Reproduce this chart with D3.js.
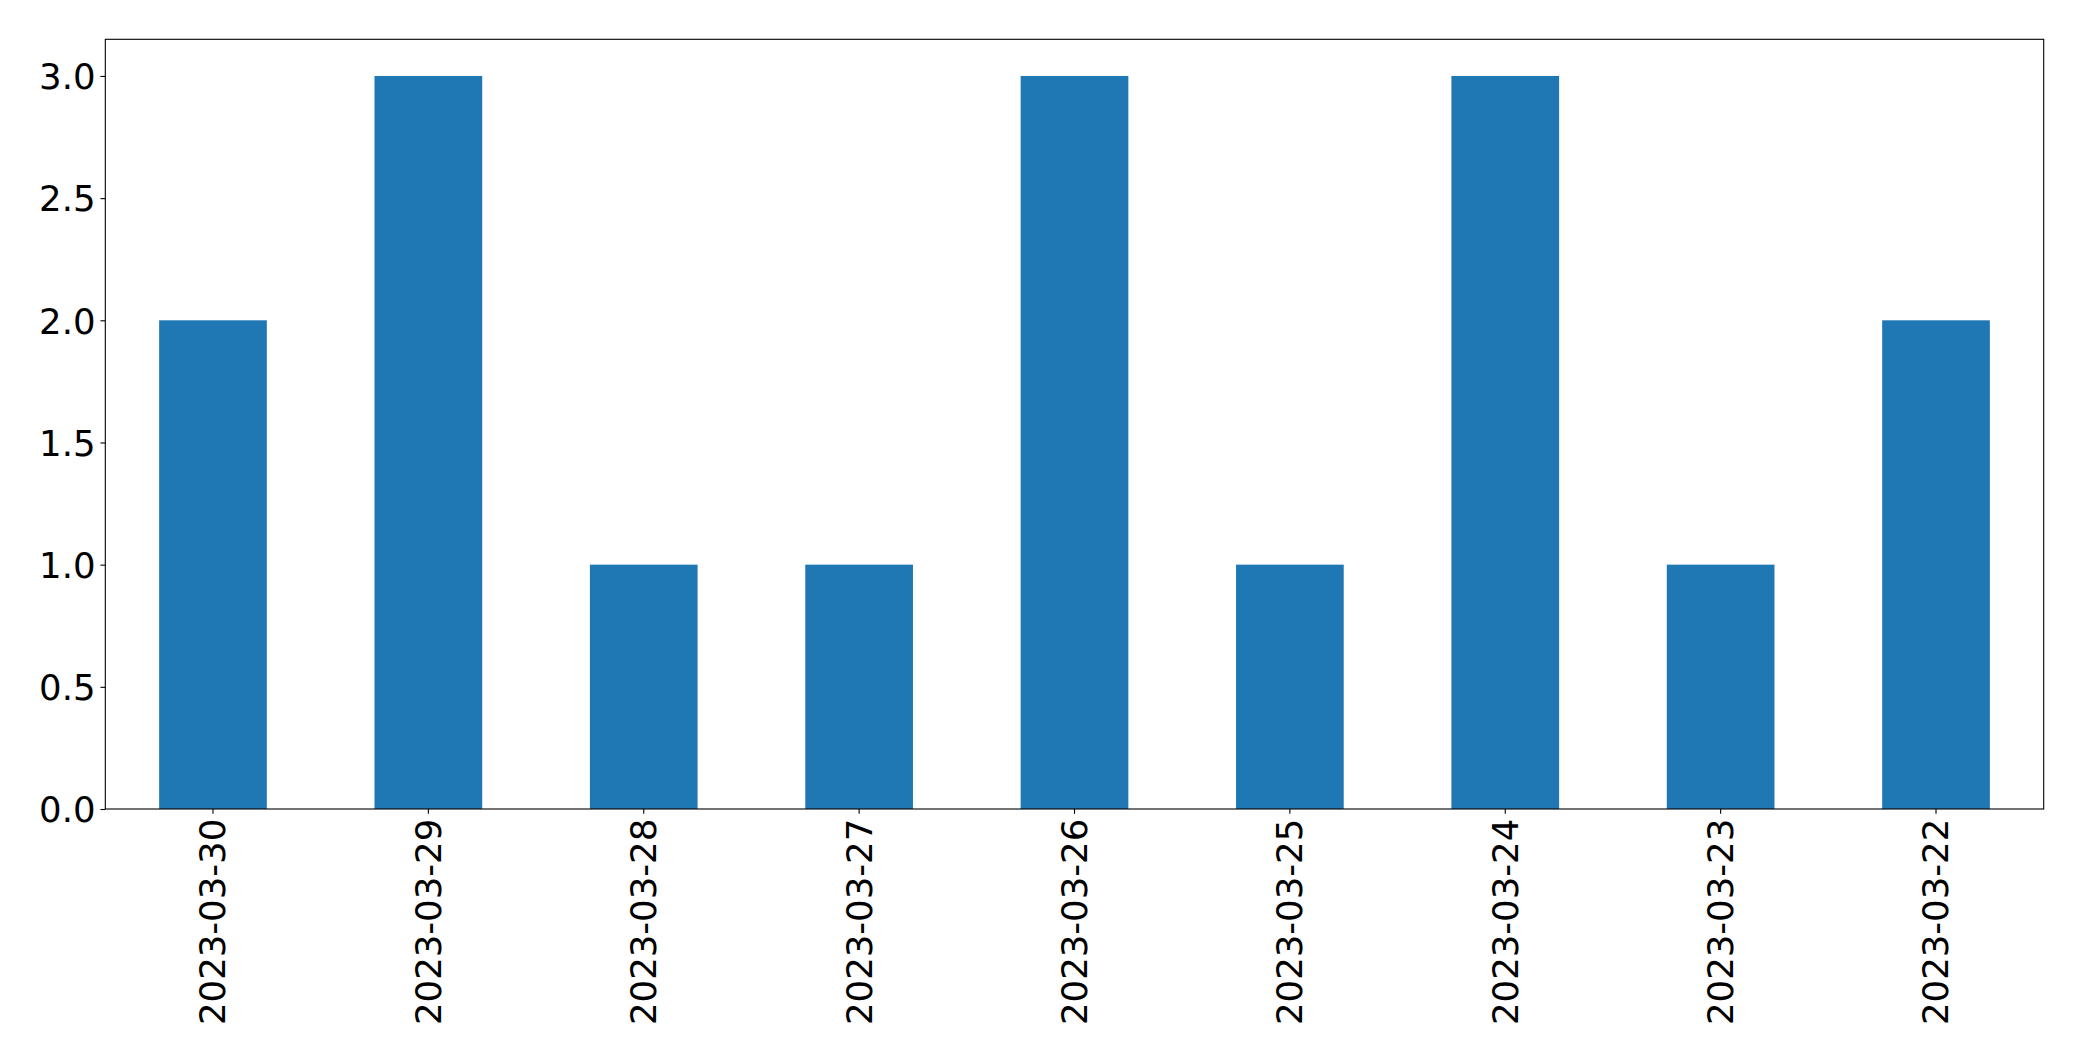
<!DOCTYPE html>
<html>
<head>
<meta charset="utf-8">
<script src="https://cdn.jsdelivr.net/npm/d3@7"></script>
<style>
  html, body { margin: 0; padding: 0; background: #fff; }
  svg { display: block; }
</style>
</head>
<body>
<script>
const categories = ["2023-03-30","2023-03-29","2023-03-28","2023-03-27","2023-03-26","2023-03-25","2023-03-24","2023-03-23","2023-03-22"];
const values = [2, 3, 1, 1, 3, 1, 3, 1, 2];
const yTicks = [0, 0.5, 1.0, 1.5, 2.0, 2.5, 3.0];

const W = 2082, H = 1061;
const margin = {left: 105.3, right: W - 2043.7, top: 39.3, bottom: H - 809};
const fontSize = 35.5;
const tickLen = 4.86, pad = 4.86;

const svg = d3.select("body").append("svg").attr("width", W).attr("height", H);
const g = svg.append("g");

const x = d3.scaleBand().domain(categories)
  .range([margin.left, W - margin.right]).paddingInner(0.5).paddingOuter(0.25);
const yMax = 3 * 1.05;
const y = d3.scaleLinear().domain([0, yMax]).range([H - margin.bottom, margin.top]);

// bars
g.selectAll("rect.bar").data(values).enter().append("rect")
  .attr("class", "bar")
  .attr("x", (d, i) => x(categories[i]))
  .attr("width", x.bandwidth())
  .attr("y", d => y(d))
  .attr("height", d => y(0) - y(d))
  .attr("fill", "#1f77b4");

// axes
const xAxis = d3.axisBottom(x).tickSize(tickLen).tickPadding(pad).tickSizeOuter(0);
const xg = g.append("g").attr("transform", `translate(0,${y(0)})`).call(xAxis);
xg.select(".domain").remove();
xg.selectAll(".tick line").attr("stroke", "#000").attr("stroke-width", 1.1);
xg.selectAll(".tick text")
  .attr("font-family", "DejaVu Sans")
  .attr("font-size", fontSize)
  .attr("fill", "#000")
  .attr("text-anchor", "end")
  .attr("transform", `rotate(-90)`)
  .attr("x", -(tickLen + pad))
  .attr("y", 0)
  .attr("dy", "0.35em");

const yAxis = d3.axisLeft(y).tickValues(yTicks).tickFormat(d3.format(".1f"))
  .tickSize(tickLen).tickPadding(pad).tickSizeOuter(0);
const yg = g.append("g").attr("transform", `translate(${margin.left},0)`).call(yAxis);
yg.select(".domain").remove();
yg.selectAll(".tick line").attr("stroke", "#000").attr("stroke-width", 1.1);
yg.selectAll(".tick text")
  .attr("font-family", "DejaVu Sans")
  .attr("font-size", fontSize)
  .attr("fill", "#000")
  .attr("dy", "0.36em");

// frame
g.append("rect")
  .attr("x", margin.left).attr("y", margin.top)
  .attr("width", W - margin.right - margin.left)
  .attr("height", H - margin.bottom - margin.top)
  .attr("fill", "none").attr("stroke", "#000").attr("stroke-width", 1.1);
</script>
</body>
</html>
